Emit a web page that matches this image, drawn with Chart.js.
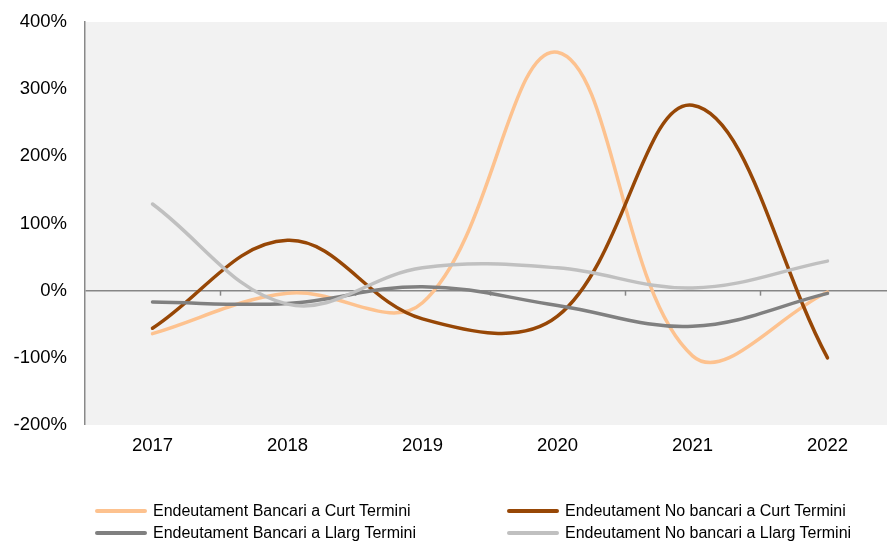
<!DOCTYPE html>
<html>
<head>
<meta charset="utf-8">
<script src="https://cdn.jsdelivr.net/npm/chart.js@4.4.1/dist/chart.umd.min.js"></script>
<style>
  html, body { margin: 0; padding: 0; background: #fff; overflow: hidden; width: 887px; height: 543px; }
  #wrap { position: relative; width: 887px; height: 543px; overflow: hidden; }
  canvas { position: absolute; left: 0; top: 0; }
  .lg { position: absolute; font-family: "Liberation Sans", Arial, sans-serif; font-size: 16px; color: #000; white-space: nowrap; line-height: 18px; }
  .lg .sw { display: inline-block; width: 52px; height: 4px; border-radius: 2px; vertical-align: middle; margin-right: 6px; position: relative; top: -1px; }
</style>
</head>
<body>
<div id="wrap">
  <canvas id="c" width="895" height="543"></canvas>
</div>
<script>
const categories = ['2017', '2018', '2019', '2020', '2021', '2022'];
const seriesNames = [
  'Endeutament Bancari a Curt Termini',
  'Endeutament No bancari a Curt Termini',
  'Endeutament Bancari a Llarg Termini',
  'Endeutament No bancari a Llarg Termini'
];
const bancariCurt    = [-64, -4, -18, 355, -97, -2];
const noBancariCurt  = [-56, 75, -42, -38, 276, -100];
const bancariLlarg   = [-17, -19, 6, -22, -53, -4];
const noBancariLlarg = [129, -20, 34, 34, 4, 44];
const yMin = -200, yMax = 400, yStep = 100;

const colors = ['#FDC28F', '#974706', '#808080', '#C0C0C0'];
const values = [bancariCurt, noBancariCurt, bancariLlarg, noBancariLlarg];

const plotBg = {
  id: 'plotBg',
  beforeDraw(chart) {
    const a = chart.chartArea, ctx = chart.ctx;
    ctx.save();
    ctx.fillStyle = '#F2F2F2';
    ctx.fillRect(a.left, a.top, a.right - a.left, a.bottom - a.top);
    ctx.restore();
  },
  beforeDatasetsDraw(chart) {
    const a = chart.chartArea, ctx = chart.ctx;
    const y0 = chart.scales.y.getPixelForValue(0);
    const n = categories.length;
    const w = (a.right - a.left) / n;
    ctx.save();
    ctx.strokeStyle = '#868686';
    ctx.lineWidth = 1.5;
    for (let i = 1; i < n; i++) {
      const x = Math.round(a.left + i * w) + 0.5;
      ctx.beginPath();
      ctx.moveTo(x, y0);
      ctx.lineTo(x, y0 + 5);
      ctx.stroke();
    }
    ctx.restore();
  }
};

const datasets = values.map((v, i) => ({
  label: seriesNames[i],
  data: v,
  borderColor: colors[i],
  backgroundColor: colors[i],
  borderWidth: 3.5,
  pointRadius: 0,
  pointHoverRadius: 0,
  tension: 0.38,
  fill: false,
  borderCapStyle: 'round',
  borderJoinStyle: 'round',
  order: values.length - i,
  clip: false
}));

const tickFont = { family: '"Liberation Sans", Arial, sans-serif', size: 18.5 };

const chart = new Chart(document.getElementById('c'), {
  type: 'line',
  data: { labels: categories, datasets },
  options: {
    responsive: false,
    animation: false,
    devicePixelRatio: 1,
    layout: { padding: { top: 22, right: 0, bottom: 78, left: 0 } },
    plugins: { legend: { display: false }, tooltip: { enabled: false } },
    scales: {
      x: {
        type: 'category',
        offset: true,
        grid: { display: false, drawTicks: false },
        border: { display: false },
        ticks: { color: '#000', font: tickFont, padding: 10, maxRotation: 0, autoSkip: false },
        afterFit(s) { s.height = 40; s.paddingLeft = 0; s.paddingRight = 0; }
      },
      y: {
        min: yMin, max: yMax,
        ticks: {
          stepSize: yStep,
          color: '#000',
          font: tickFont,
          padding: 18,
          callback: v => v + '%'
        },
        grid: {
          drawTicks: false,
          color: c => (c.tick && c.tick.value === 0) ? '#868686' : 'rgba(0,0,0,0)',
          lineWidth: c => (c.tick && c.tick.value === 0) ? 1.5 : 0
        },
        border: { display: true, color: '#898989', width: 1.5 },
        afterFit(s) { s.width = 85; s.paddingTop = 0; s.paddingBottom = 0; }
      }
    }
  },
  plugins: [plotBg]
});

// HTML legend built from the chart datasets
const wrap = document.getElementById('wrap');
const legendPos = [[95, 502], [507, 502], [95, 524], [507, 524]];
chart.data.datasets.forEach((ds, i) => {
  const d = document.createElement('div');
  d.className = 'lg';
  d.style.left = legendPos[i][0] + 'px';
  d.style.top = legendPos[i][1] + 'px';
  const sw = document.createElement('span');
  sw.className = 'sw';
  sw.style.background = ds.borderColor;
  d.appendChild(sw);
  d.appendChild(document.createTextNode(ds.label));
  wrap.appendChild(d);
});
</script>
</body>
</html>
